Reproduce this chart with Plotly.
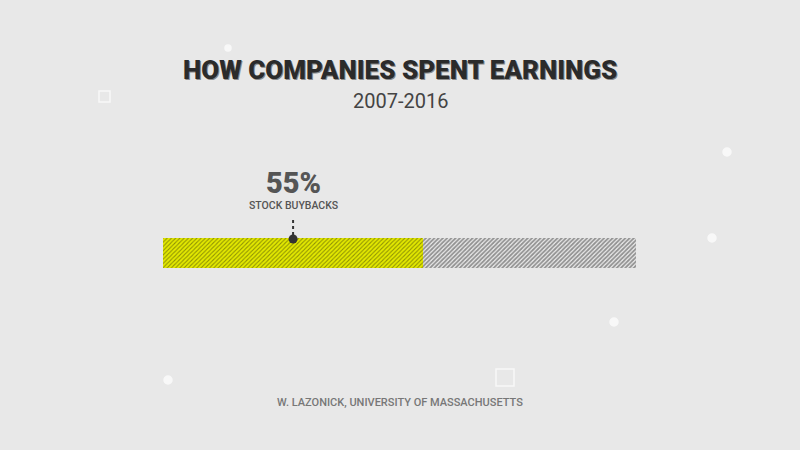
import plotly.graph_objects as go

categories = ["Earnings"]
segments = ["Stock buybacks", "Other"]
values = [55, 45]
label_value = "55%"
label_text = "STOCK BUYBACKS"
title = "HOW COMPANIES SPENT EARNINGS"
subtitle = "2007-2016"
source = "W. LAZONICK, UNIVERSITY OF MASSACHUSETTS"

W, H = 800, 450
BG = "#e8e8e8"
FONT = "Roboto, Arial, sans-serif"

fig = go.Figure()
fig.add_trace(go.Bar(
    y=categories, x=[values[0]], orientation="h", name=segments[0], width=1,
    marker=dict(color="#dfe400", line=dict(width=0),
                pattern=dict(shape="/", fgcolor="#3a3a08", bgcolor="#e4ea00", size=3, solidity=0.35)),
))
fig.add_trace(go.Bar(
    y=categories, x=[values[1]], orientation="h", name=segments[1], width=1,
    marker=dict(color="#bdbdbd", line=dict(width=0),
                pattern=dict(shape="/", fgcolor="#333333", bgcolor="#eeeeee", size=3, solidity=0.6)),
))
mid = values[0] / 2

x0p, x1p = 163 / W, 636 / W
fig.update_layout(
    width=W, height=H, margin=dict(l=0, r=0, t=0, b=0),
    paper_bgcolor=BG, plot_bgcolor=BG, barmode="stack", showlegend=False,
    xaxis=dict(domain=[x0p, x1p], range=[0, sum(values)], visible=False, fixedrange=True),
    yaxis=dict(domain=[(H - 268) / H, (H - 238) / H], range=[-0.5, 0.5], visible=False),
    font=dict(family=FONT),
)

# faint decorative background glyphs
deco = [(727, 152, 4), (168, 380, 4), (614, 322, 4), (712, 238, 4), (228, 48, 3)]
for cx, cy, r in deco:
    fig.add_shape(type="circle", xref="paper", yref="paper",
                  x0=(cx - r) / W, x1=(cx + r) / W, y0=(H - cy - r) / H, y1=(H - cy + r) / H,
                  line=dict(color="#f8f8f8", width=1.5), fillcolor="#f8f8f8", layer="below")
for (ax, ay, bx, by) in [(496, 369, 514, 386), (99, 91, 110, 102)]:
    fig.add_shape(type="rect", xref="paper", yref="paper",
                  x0=ax / W, x1=bx / W, y0=(H - by) / H, y1=(H - ay) / H,
                  line=dict(color="#f8f8f8", width=1.5), layer="below")

fig.add_shape(type="line", xref="x", yref="paper", x0=mid, x1=mid,
              y0=(H - 235) / H, y1=(H - 219) / H,
              line=dict(color="#333333", width=2, dash="dot"))
fig.add_shape(type="circle", xref="x", yref="paper", xsizemode="pixel", ysizemode="pixel",
              xanchor=mid, yanchor=(H - 239) / H, x0=-4.5, x1=4.5, y0=-4.5, y1=4.5,
              fillcolor="#333333", line=dict(width=0))

def ann(text, x, y, size, color, weight="normal", xref="paper"):
    fig.add_annotation(text=text, x=x, y=y, xref=xref, yref="paper",
                       showarrow=False, xanchor="center", yanchor="middle",
                       font=dict(size=size, color=color, family=FONT, weight=weight))

# title shadow + title
ann(title, 0.5 + 1.5 / W, (H - 71.5) / H, 26, "#8a8a8a", weight=900)
ann(title, 0.5, (H - 70) / H, 26, "#2b2b2b", weight=900)
ann(subtitle, 0.5, (H - 101) / H, 20, "#444444")
ann(label_value, mid, (H - 182.5) / H, 29, "#555555", weight=900, xref="x")
ann(label_text, mid, (H - 205) / H, 10.5, "#555555", weight=500, xref="x")
ann(source, 0.5, (H - 402) / H, 11, "#777777", weight=500)

fig.write_html("out.html")
